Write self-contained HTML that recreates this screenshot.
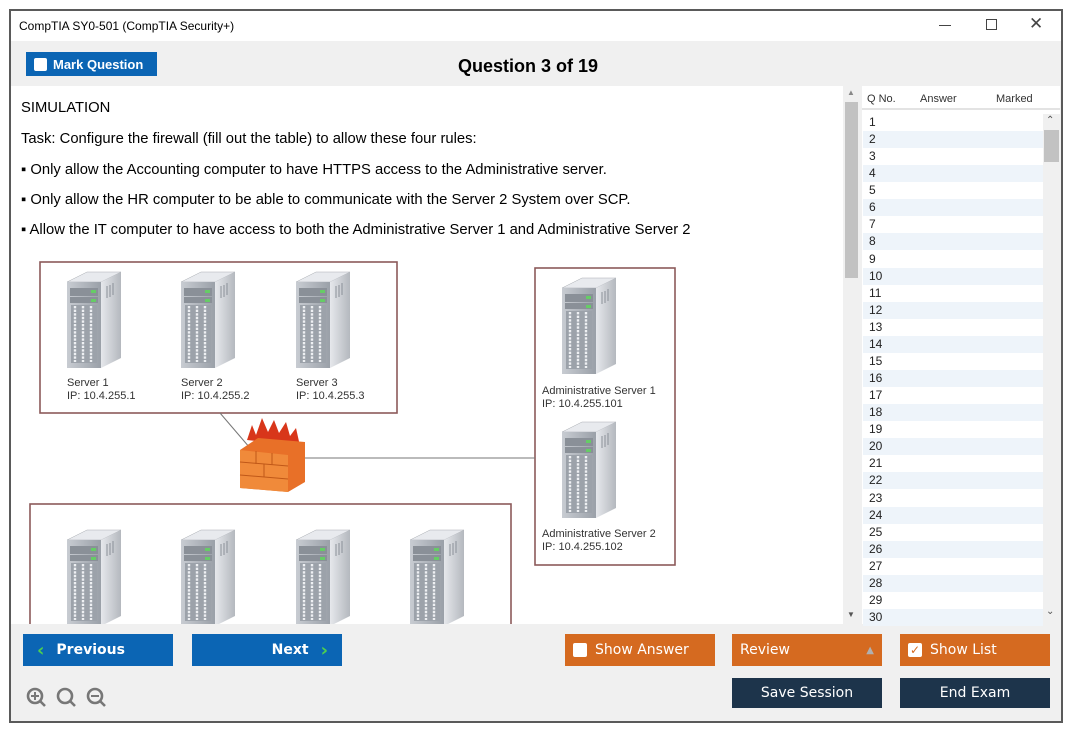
<!DOCTYPE html>
<html><head><meta charset="utf-8">
<style>
*{margin:0;padding:0;box-sizing:border-box}
body{width:1075px;height:735px;background:#fff;position:relative;overflow:hidden;font-family:"Liberation Sans",sans-serif}
.a{position:absolute}
.frame{left:9px;top:9px;width:1054px;height:714px;border:2px solid #5a5a5a;background:#f0f0f0}
.t{font-size:14.8px;color:#000;white-space:nowrap}
.btn{position:absolute;color:#fff;font-family:"DejaVu Sans","Liberation Sans",sans-serif;font-size:14px;display:flex;align-items:center;white-space:nowrap}
.blue{background:#0b65b4}
.org{background:#d56a20}
.navy{background:#1d344b;justify-content:center}
.row{position:absolute;left:863px;width:180px;height:17px;font-size:12px;padding-left:6px;line-height:17px;color:#222}
.cb{width:14px;height:14px;background:#fff;border-radius:2px;display:inline-block;margin-right:8px}
</style></head><body>
<div class="a frame"></div>
<div class="a" style="left:11px;top:11px;width:1050px;height:30px;background:#fff"></div>
<div class="a t" style="left:19px;top:19px;font-size:12px">CompTIA SY0-501 (CompTIA Security+)</div>
<div class="a" style="left:939px;top:25px;width:12px;height:1px;background:#444"></div>
<div class="a" style="left:986px;top:19px;width:11px;height:11px;border:1px solid #444"></div>
<div class="a" style="left:1029px;top:14px;font-size:17px;color:#444">✕</div>
<div class="btn blue" style="left:26px;top:52px;width:131px;height:24px;font-weight:bold;font-size:13px;padding-left:8px;font-family:'Liberation Sans',sans-serif"><span class="cb" style="width:13px;height:13px;margin-right:6px"></span>Mark Question</div>
<div class="a" style="left:428px;top:56px;width:200px;text-align:center;font-weight:bold;font-size:18px">Question 3 of 19</div>
<div class="a" style="left:11px;top:86px;width:832px;height:538px;background:#fff"></div>
<div class="a t" style="left:21px;top:100px">SIMULATION</div>
<div class="a t" style="left:21px;top:131px">Task: Configure the firewall (fill out the table) to allow these four rules:</div>
<div class="a t" style="left:21px;top:162px">▪ Only allow the Accounting computer to have HTTPS access to the Administrative server.</div>
<div class="a t" style="left:21px;top:192px">▪ Only allow the HR computer to be able to communicate with the Server 2 System over SCP.</div>
<div class="a t" style="left:21px;top:222px">▪ Allow the IT computer to have access to both the Administrative Server 1 and Administrative Server 2</div>
<svg class="a" style="left:0;top:0" width="843" height="624">
<defs>
<linearGradient id="fr" x1="0" x2="1"><stop offset="0" stop-color="#c8ccd2"/><stop offset="1" stop-color="#9aa0a8"/></linearGradient>
<linearGradient id="sd" x1="0" x2="1"><stop offset="0" stop-color="#e6e8ec"/><stop offset="1" stop-color="#b4b8be"/></linearGradient>
<symbol id="srv" width="56" height="98" overflow="visible">
<polygon points="0,10 20,0 54,0 34,10" fill="#e8eaee" stroke="#a8acb2" stroke-width=".5"/>
<polygon points="34,10 54,0 54,86 34,96" fill="url(#sd)"/>
<rect x="0" y="10" width="34" height="86" fill="url(#fr)"/>
<rect x="3" y="16" width="28" height="8" fill="#8a9098"/>
<rect x="3" y="25" width="28" height="6" fill="#8a9098"/>
<rect x="24" y="18" width="5" height="3" fill="#6c6"/>
<rect x="24" y="27" width="5" height="3" fill="#6c6"/>
<rect x="4" y="33" width="26" height="58" fill="#9ca2aa"/>
<g stroke="#eef0f3" stroke-width="2.4" stroke-dasharray="2.4 1.2"><line x1="8" y1="34" x2="8" y2="90"/><line x1="16" y1="34" x2="16" y2="90"/><line x1="24" y1="34" x2="24" y2="90"/></g>
<g stroke="#8a9098" stroke-width="1"><line x1="40" y1="14" x2="40" y2="26"/><line x1="43" y1="13" x2="43" y2="25"/><line x1="46" y1="11" x2="46" y2="23"/></g>
</symbol>
</defs>
<g fill="none" stroke="#8c5a5a" stroke-width="1.6">
<rect x="40" y="262" width="357" height="151"/>
<rect x="535" y="268" width="140" height="297"/>
<rect x="30" y="504" width="481" height="130"/>
</g>
<g stroke="#777" stroke-width="1"><line x1="220" y1="413" x2="250" y2="448"/><line x1="305" y1="458" x2="535" y2="458"/></g>
<use href="#srv" x="67" y="272"/><use href="#srv" x="181" y="272"/><use href="#srv" x="296" y="272"/>
<use href="#srv" x="562" y="278"/><use href="#srv" x="562" y="422"/>
<use href="#srv" x="67" y="530"/><use href="#srv" x="181" y="530"/><use href="#srv" x="296" y="530"/><use href="#srv" x="410" y="530"/>
<path d="M247,440 L252,425 256,435 262,418 268,432 274,420 279,433 286,422 290,436 296,428 300,446 Z" fill="#d8361a"/>
<polygon points="240,450 258,438 305,442 305,482 288,492 240,488" fill="#e87028"/>
<polygon points="240,450 288,455 288,492 240,488" fill="#f08a3a"/>
<g stroke="#c05818" stroke-width="1"><line x1="240" y1="462" x2="288" y2="466"/><line x1="240" y1="475" x2="288" y2="479"/><line x1="256" y1="451" x2="256" y2="464"/><line x1="272" y1="453" x2="272" y2="465"/><line x1="264" y1="464" x2="264" y2="477"/></g>
<g font-family="Liberation Sans,sans-serif" font-size="11" fill="#333">
<text x="67" y="386">Server 1</text><text x="67" y="399">IP: 10.4.255.1</text>
<text x="181" y="386">Server 2</text><text x="181" y="399">IP: 10.4.255.2</text>
<text x="296" y="386">Server 3</text><text x="296" y="399">IP: 10.4.255.3</text>
<text x="542" y="394">Administrative Server 1</text><text x="542" y="407">IP: 10.4.255.101</text>
<text x="542" y="537">Administrative Server 2</text><text x="542" y="550">IP: 10.4.255.102</text>
</g>
</svg>
<div class="a" style="left:843px;top:86px;width:17px;height:538px;background:#f0f0f0"></div>
<div class="a" style="left:845px;top:102px;width:13px;height:176px;background:#c2c2c2"></div>
<div class="a" style="left:847px;top:88px;font-size:8px;color:#888">▲</div>
<div class="a" style="left:847px;top:610px;font-size:8px;color:#555">▼</div>
<div class="a" style="left:862px;top:86px;width:198px;height:538px;background:#fff"></div>
<div class="a" style="left:862px;top:86px;width:198px;height:24px;background:#fff;border-bottom:2px solid #e3e3e3;font-size:11px;color:#333">
<span class="a" style="left:5px;top:7px">Q No.</span><span class="a" style="left:58px;top:7px">Answer</span><span class="a" style="left:134px;top:7px">Marked</span></div>
<div class="a" style="left:1043px;top:114px;width:17px;height:510px;background:#f0f0f0"></div>
<div class="a" style="left:1044px;top:130px;width:15px;height:32px;background:#c2c2c2"></div>
<div class="a" style="left:1046px;top:115px;font-size:10px;color:#555">⌃</div>
<div class="a" style="left:1046px;top:606px;font-size:10px;color:#555">⌄</div>
<div id="rows"></div>
<script>
var h='';for(var i=1;i<=30;i++){h+='<div class="row" style="top:'+(114+(i-1)*17.07)+'px;background:'+(i%2?'#fff':'#eef4fa')+'">'+i+'</div>';}
document.getElementById('rows').innerHTML=h;
</script>
<div class="btn blue" style="left:23px;top:634px;width:150px;height:32px;font-weight:bold;padding-left:14px"><span style="color:#4ed04e;font-size:18px;margin-right:12px">‹</span>Previous</div>
<div class="btn blue" style="left:192px;top:634px;width:150px;height:32px;font-weight:bold;justify-content:flex-end;padding-right:14px">Next<span style="color:#4ed04e;font-size:18px;margin-left:12px">›</span></div>
<svg class="a" style="left:25px;top:686px" width="90" height="26"><g fill="none" stroke="#777" stroke-width="2.6"><circle cx="10" cy="10" r="7"/><line x1="15" y1="15" x2="20" y2="20"/><circle cx="40" cy="10" r="7"/><line x1="45" y1="15" x2="50" y2="20"/><circle cx="70" cy="10" r="7"/><line x1="75" y1="15" x2="80" y2="20"/><line x1="6" y1="10" x2="14" y2="10" stroke-width="2"/><line x1="10" y1="6" x2="10" y2="14" stroke-width="2"/><line x1="66" y1="10" x2="74" y2="10" stroke-width="2"/></g></svg>
<div class="btn org" style="left:565px;top:634px;width:150px;height:32px;padding-left:8px"><span class="cb"></span>Show Answer</div>
<div class="btn org" style="left:732px;top:634px;width:150px;height:32px;padding-left:8px">Review<span style="margin-left:auto;margin-right:8px;color:#b0b0b0;font-size:10px">▲</span></div>
<div class="btn org" style="left:900px;top:634px;width:150px;height:32px;padding-left:8px"><span class="cb" style="color:#d56a20;font-size:12px;line-height:14px;text-align:center;font-weight:bold">✓</span>Show List</div>
<div class="btn navy" style="left:732px;top:678px;width:150px;height:30px">Save Session</div>
<div class="btn navy" style="left:900px;top:678px;width:150px;height:30px">End Exam</div>
</body></html>
